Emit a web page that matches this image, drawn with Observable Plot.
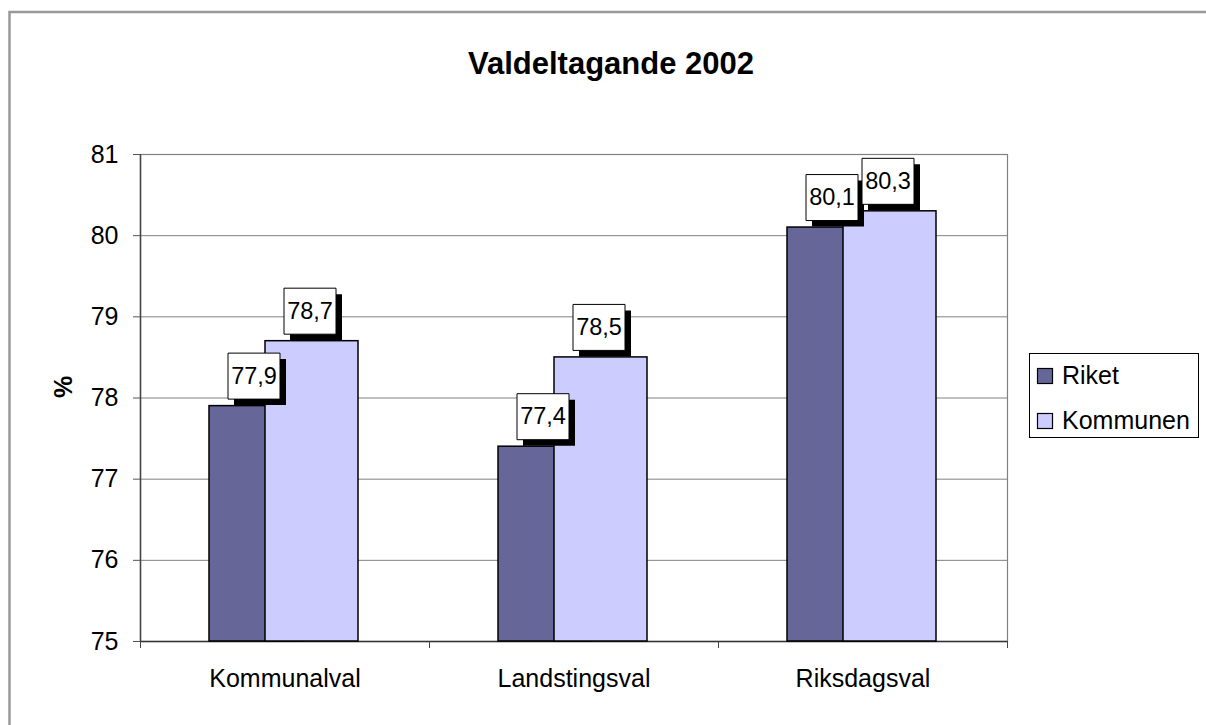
<!DOCTYPE html>
<html>
<head>
<meta charset="utf-8">
<script src="https://cdn.jsdelivr.net/npm/d3@7"></script>
<script src="https://cdn.jsdelivr.net/npm/@observablehq/plot@0.6"></script>
<style>
  html, body { margin: 0; padding: 0; background: #fff; overflow: hidden; }
  #wrap { position: relative; width: 1206px; height: 725px; font-family: "Liberation Sans", Arial, sans-serif; }
  #wrap svg { position: absolute; left: 0; top: 0; }
</style>
</head>
<body>
<div id="wrap"></div>
<script>
// ---- data ----
const title = "Valdeltagande 2002";
const yLabel = "%";
const categories = ["Kommunalval", "Landstingsval", "Riksdagsval"];
const series = ["Riket", "Kommunen"];
const riket = [77.9, 77.4, 80.1];
const kommunen = [78.7, 78.5, 80.3];
const yTicks = [75, 76, 77, 78, 79, 80, 81];

// ---- styles / layout ----
const colors = ["#666699", "#ccccff"];
const W = 1206, H = 725;
const mL = 140, mR = 199, mT = 154, mB = 84;
const bw = (W - mL - mR) / categories.length;   // band width
const barW = 93;
const offR = -29, offK = 27;                      // bar center offsets within band
const font = '"Liberation Sans", Arial, sans-serif';

const rows = categories.map((c, i) => ({cat: c, riket: riket[i], kommunen: kommunen[i]}));
const fmt = v => v.toFixed(1).replace(".", ",");

const boxSymbol = { draw(ctx) { ctx.rect(-26, -23, 52, 46); } };

const inset = off => ({insetLeft: bw / 2 + off - barW / 2, insetRight: bw / 2 - off - barW / 2});

function labelMarks(key, off) {
  return [
    Plot.dot(rows, {x: "cat", y: key, symbol: boxSymbol, r: 1, fill: "black", stroke: "none", dx: off - 2 + 6, dy: -30 + 6}),
    Plot.dot(rows, {x: "cat", y: key, symbol: boxSymbol, r: 1, fill: "white", stroke: "black", strokeWidth: 1, dx: off - 2, dy: -30}),
    Plot.text(rows, {x: "cat", y: key, text: d => fmt(d[key]), dx: off - 2, dy: -30, fontSize: 23.5, fill: "black", textAnchor: "middle", lineAnchor: "middle"})
  ];
}

const chart = Plot.plot({
  width: W, height: H,
  marginLeft: mL, marginRight: mR, marginTop: mT, marginBottom: mB,
  style: {fontFamily: font, background: "transparent", overflow: "visible"},
  x: {type: "band", domain: categories, padding: 0},
  y: {domain: [yTicks[0], yTicks[yTicks.length - 1]]},
  marks: [
    Plot.gridY(yTicks, {stroke: "#808080", strokeOpacity: 1, strokeWidth: 1}),
    Plot.frame({stroke: "#808080", strokeWidth: 1.2}),
    Plot.ruleX([categories[0]], {dx: -bw / 2, stroke: "#444", strokeWidth: 1.5}),
    Plot.ruleY([yTicks[0]], {stroke: "#333", strokeWidth: 1.5}),
    Plot.ruleX(categories, {dx: -bw / 2, y1: yTicks[0], y2: yTicks[0], insetBottom: -7, stroke: "#444"}),
    Plot.ruleX([categories[categories.length - 1]], {dx: bw / 2, y1: yTicks[0], y2: yTicks[0], insetBottom: -7, stroke: "#444"}),
    Plot.axisY({ticks: yTicks, tickSize: 7, tickPadding: 15, fontSize: 25, label: null, stroke: "#555", fill: "black", tickFormat: d => String(d)}),
    Plot.axisX({tickSize: 0, tickPadding: 28, fontSize: 25, label: null, fill: "black"}),
    Plot.barY(rows, {x: "cat", y1: () => yTicks[0], y2: "riket", fill: colors[0], stroke: "black", strokeWidth: 1.5, ...inset(offR)}),
    Plot.barY(rows, {x: "cat", y1: () => yTicks[0], y2: "kommunen", fill: colors[1], stroke: "black", strokeWidth: 1.5, ...inset(offK)}),
    ...labelMarks("riket", offR),
    ...labelMarks("kommunen", offK),
    Plot.text([yLabel], {frameAnchor: "left", dx: -77, rotate: -90, fontSize: 25, fontWeight: "bold", fill: "black"})
  ]
});

const wrap = document.getElementById("wrap");
wrap.appendChild(chart);

// ---- overlay: border, title, legend ----
const ov = d3.select(wrap).append("svg")
  .attr("width", W).attr("height", H)
  .style("font-family", font).style("pointer-events", "none");

ov.append("path").attr("d", `M9.5,${H} V12 H${W}`).attr("fill", "none").attr("stroke", "#999").attr("stroke-width", 2.5);

ov.append("text").attr("x", 611).attr("y", 74).attr("text-anchor", "middle")
  .attr("font-size", 31).attr("font-weight", "bold").attr("fill", "black").text(title);

const lg = ov.append("g");
lg.append("rect").attr("x", 1029.5).attr("y", 353.5).attr("width", 169).attr("height", 84)
  .attr("fill", "white").attr("stroke", "black").attr("stroke-width", 1);
series.forEach((s, i) => {
  const y0 = 368.5 + i * 45;
  lg.append("rect").attr("x", 1037.5).attr("y", y0).attr("width", 15).attr("height", 15)
    .attr("fill", colors[i]).attr("stroke", "black").attr("stroke-width", 1.2);
  lg.append("text").attr("x", 1062).attr("y", y0 + 15).attr("font-size", 25).attr("fill", "black").text(s);
});
</script>
</body>
</html>
